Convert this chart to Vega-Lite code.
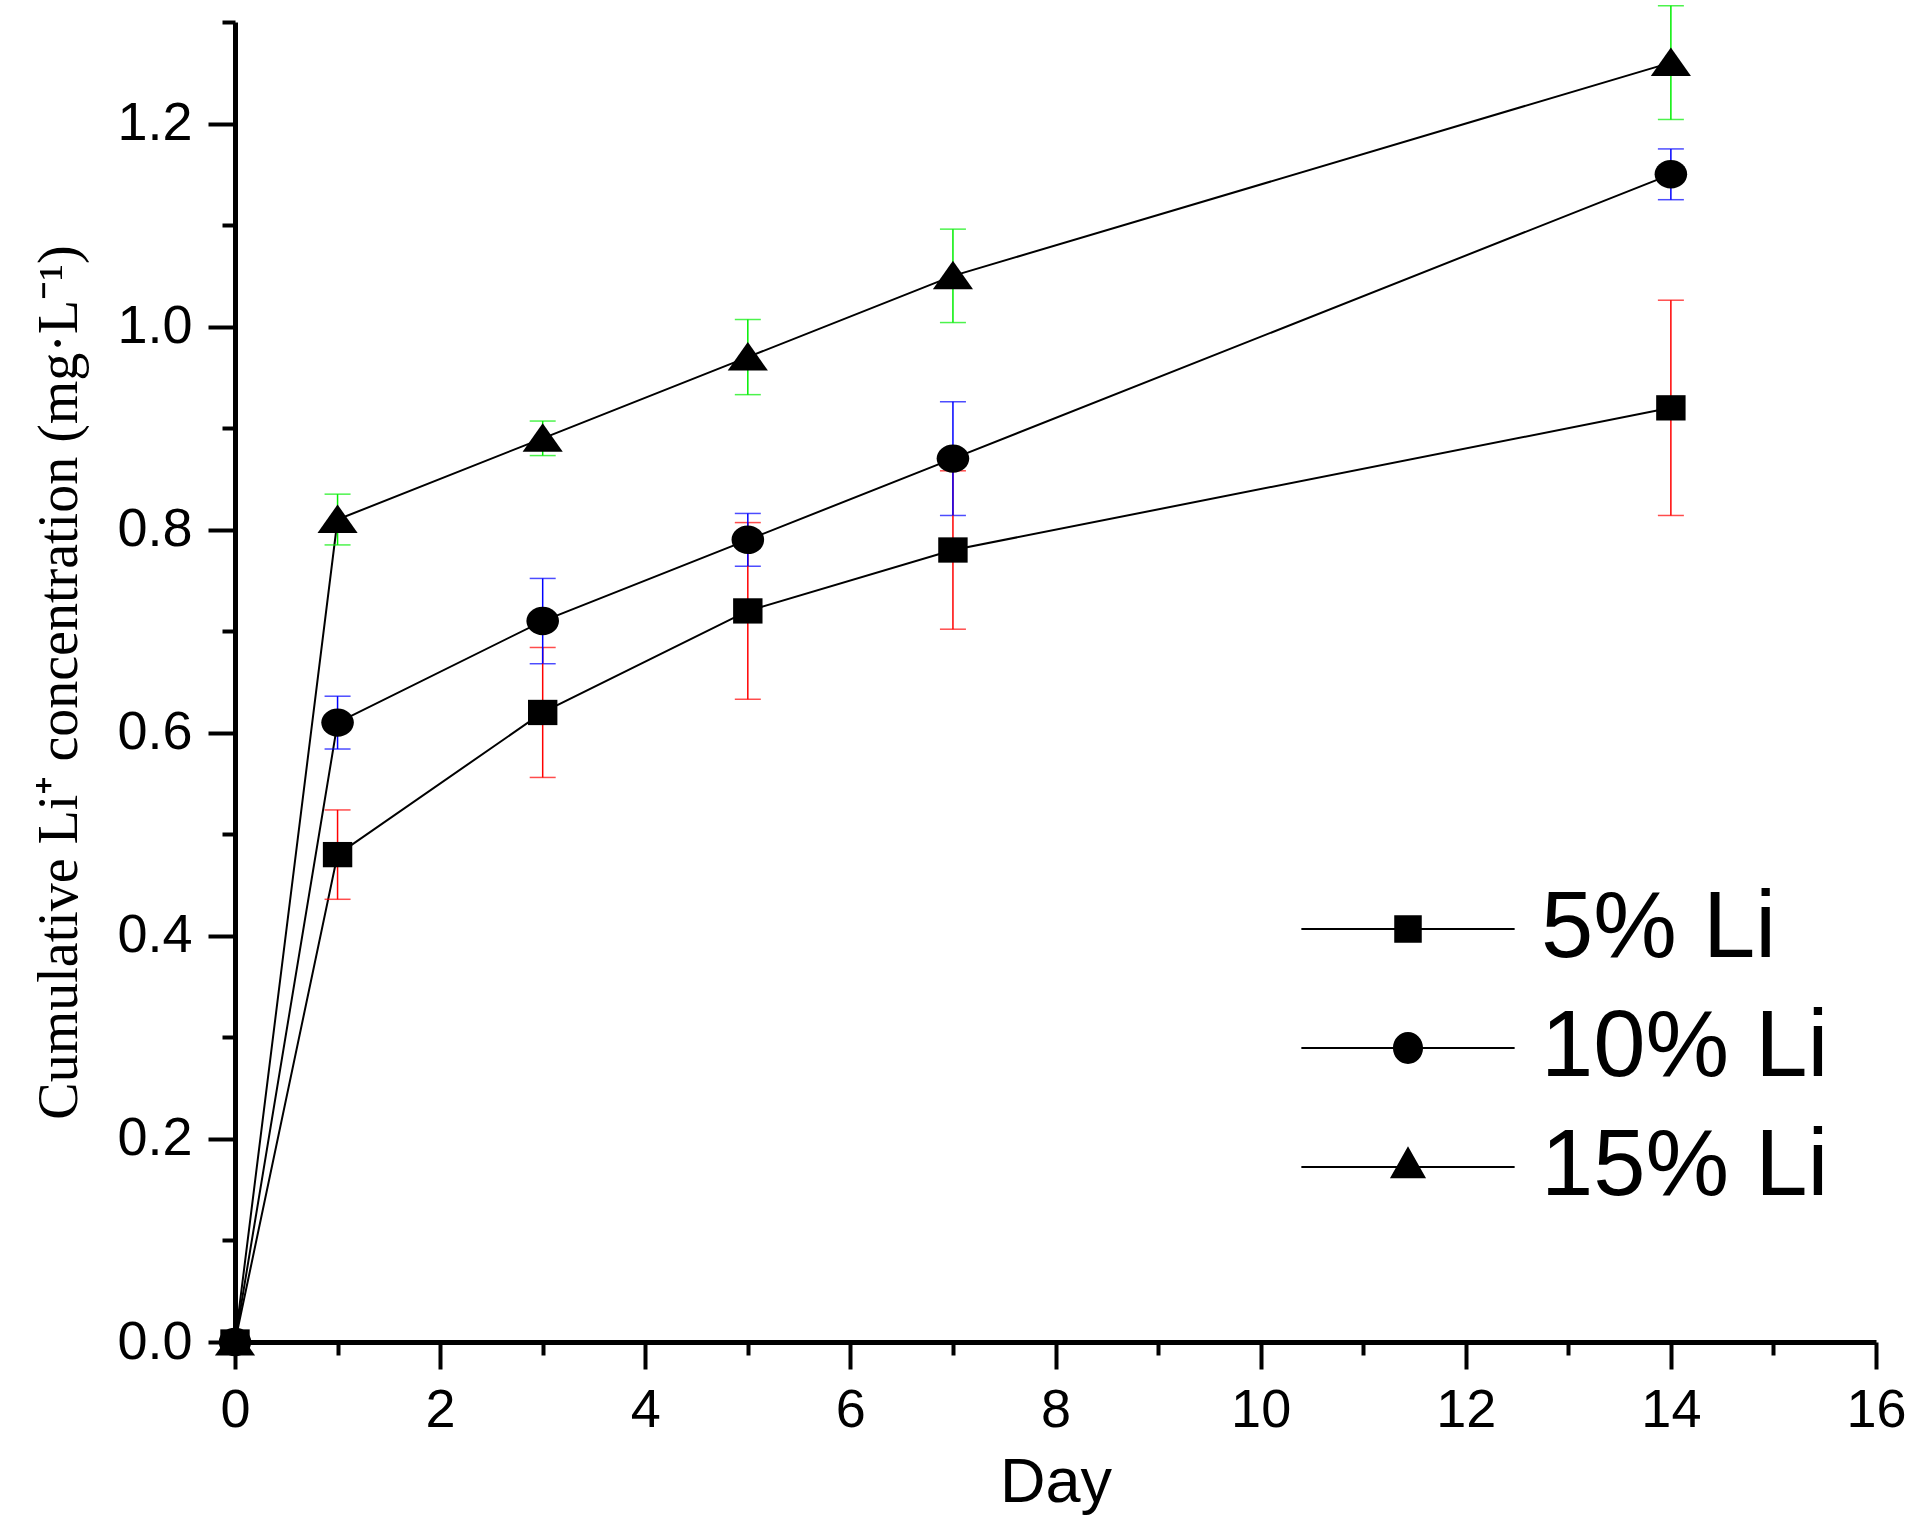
{
  "$schema": "https://vega.github.io/schema/vega-lite/v6.json",
  "width": 1641,
  "height": 1320,
  "autosize": {"type": "none"},
  "padding": {"left": 235, "top": 22, "right": 34, "bottom": 179},
  "background": "white",
  "config": {
    "view": {"stroke": null},
    "axis": {
      "grid": false,
      "domainColor": "black",
      "domainWidth": 5,
      "tickColor": "black",
      "tickWidth": 4,
      "labelColor": "black",
      "labelFont": "Liberation Sans",
      "labelFontSize": 54,
      "labelFlush": false,
      "labelOverlap": false,
      "titleColor": "black",
      "titleFontWeight": "normal"
    }
  },
  "data": {
    "values": [
      {"day": 0, "group": "5% Li", "value": 0, "err": 0},
      {"day": 1, "group": "5% Li", "value": 0.48, "err": 0.044},
      {"day": 3, "group": "5% Li", "value": 0.62, "err": 0.064},
      {"day": 5, "group": "5% Li", "value": 0.72, "err": 0.087},
      {"day": 7, "group": "5% Li", "value": 0.78, "err": 0.078},
      {"day": 14, "group": "5% Li", "value": 0.92, "err": 0.106},
      {"day": 0, "group": "10% Li", "value": 0, "err": 0},
      {"day": 1, "group": "10% Li", "value": 0.61, "err": 0.026},
      {"day": 3, "group": "10% Li", "value": 0.71, "err": 0.042},
      {"day": 5, "group": "10% Li", "value": 0.79, "err": 0.026},
      {"day": 7, "group": "10% Li", "value": 0.87, "err": 0.056},
      {"day": 14, "group": "10% Li", "value": 1.15, "err": 0.025},
      {"day": 0, "group": "15% Li", "value": 0, "err": 0},
      {"day": 1, "group": "15% Li", "value": 0.81, "err": 0.025},
      {"day": 3, "group": "15% Li", "value": 0.89, "err": 0.017},
      {"day": 5, "group": "15% Li", "value": 0.97, "err": 0.037},
      {"day": 7, "group": "15% Li", "value": 1.05, "err": 0.046},
      {"day": 14, "group": "15% Li", "value": 1.26, "err": 0.056}
    ]
  },
  "resolve": {
    "axis": {"x": "independent", "y": "independent"},
    "scale": {"shape": "independent"},
    "legend": {"shape": "independent"}
  },
  "layer": [
    {
      "mark": {"type": "line", "color": "black", "strokeWidth": 2},
      "encoding": {
        "x": {
          "field": "day",
          "type": "quantitative",
          "scale": {"domain": [0, 16], "nice": false},
          "axis": {
            "orient": "bottom",
            "values": [0, 2, 4, 6, 8, 10, 12, 14, 16],
            "tickSize": 27,
            "labelPadding": 14,
            "title": "Day",
            "titleFont": "Liberation Sans",
            "titleFontSize": 63,
            "titlePadding": 14
          }
        },
        "y": {
          "field": "value",
          "type": "quantitative",
          "scale": {"domain": [0, 1.3], "nice": false, "zero": true},
          "axis": {
            "orient": "left",
            "values": [0, 0.2, 0.4, 0.6, 0.8, 1.0, 1.2],
            "format": ".1f",
            "tickSize": 27,
            "labelPadding": 16,
            "title": "Cumulative Li⁺ concentration (mg·L⁻¹)",
            "titleFont": "Liberation Serif",
            "titleFontSize": 56,
            "titlePadding": 28
          }
        },
        "detail": {"field": "group"}
      }
    },
    {
      "transform": [{"filter": "datum.day > 0"}],
      "mark": {"type": "errorbar", "thickness": 1.5, "ticks": {"size": 26, "thickness": 1.5}},
      "encoding": {
        "x": {"field": "day", "type": "quantitative", "axis": null},
        "y": {"field": "value", "type": "quantitative", "axis": null},
        "yError": {"field": "err"},
        "color": {
          "field": "group",
          "type": "nominal",
          "scale": {"range": ["#0000ff", "#00ee00", "#ff0000"]},
          "legend": null
        }
      }
    },
    {
      "mark": {"type": "point", "filled": true, "color": "black", "opacity": 1, "size": 1000, "strokeWidth": 0},
      "encoding": {
        "x": {
          "field": "day",
          "type": "quantitative",
          "axis": {
            "orient": "bottom",
            "values": [1, 3, 5, 7, 9, 11, 13, 15],
            "tickSize": 13,
            "labels": false,
            "domain": false,
            "title": null
          }
        },
        "y": {
          "field": "value",
          "type": "quantitative",
          "axis": {
            "orient": "left",
            "values": [0.1, 0.3, 0.5, 0.7, 0.9, 1.1, 1.3],
            "tickSize": 13,
            "labels": false,
            "domain": false,
            "title": null
          }
        },
        "shape": {
          "field": "group",
          "type": "nominal",
          "scale": {
            "domain": ["5% Li", "10% Li", "15% Li"],
            "range": [
              "M-0.93,-0.8H0.93V0.8H-0.93Z",
              "M-1.03,0A1.03,0.9,0,1,0,1.03,0A1.03,0.9,0,1,0,-1.03,0Z",
              "M0,-0.95L1.27,0.85H-1.27Z"
            ]
          },
          "legend": null
        }
      }
    },
    {
      "transform": [{"filter": "false"}],
      "mark": {"type": "point", "filled": true, "color": "black", "opacity": 1, "strokeWidth": 0},
      "encoding": {
        "shape": {
          "field": "group",
          "type": "nominal",
          "scale": {
            "domain": ["5% Li", "10% Li", "15% Li"],
            "range": [
              "M-2.48,-0.025H2.48V0.025H-2.48ZM-0.32,-0.32H0.32V0.32H-0.32Z",
              "M-2.48,-0.025H2.48V0.025H-2.48ZM-0.35,0A0.35,0.37,0,1,1,0.35,0A0.35,0.37,0,1,1,-0.35,0Z",
              "M-2.48,-0.025H2.48V0.025H-2.48ZM0,-0.48L0.42,0.26H-0.42Z"
            ]
          },
          "legend": {
            "title": null,
            "orient": "none",
            "legendX": 1126,
            "legendY": 860,
            "padding": 0,
            "labelFont": "Liberation Sans",
            "labelFontSize": 94,
            "labelColor": "black",
            "labelLimit": 500,
            "labelOffset": 86,
            "labelBaseline": "middle",
            "rowPadding": 25,
            "symbolSize": 7396,
            "symbolStrokeWidth": 0,
            "symbolFillColor": "black",
            "symbolOpacity": 1
          }
        }
      }
    }
  ]
}
